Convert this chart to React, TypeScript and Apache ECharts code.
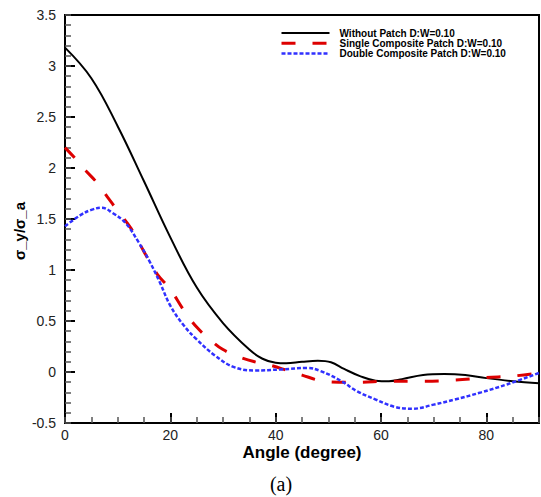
import React, { useEffect, useRef } from "react";
import * as echarts from "echarts";

const seriesNames = [
  "Without Patch D:W=0.10",
  "Single Composite Patch D:W=0.10",
  "Double Composite Patch D:W=0.10",
];

const withoutAngles = [0, 5, 10, 15, 20, 25, 30, 35, 37.5, 40, 42, 45, 48, 50.5, 53, 56, 59, 61.5, 64, 68, 72, 76, 80, 85, 90];
const withoutValues = [3.18, 2.88, 2.41, 1.87, 1.32, 0.83, 0.48, 0.22, 0.13, 0.09, 0.085, 0.1, 0.11, 0.095, 0.03, -0.04, -0.085, -0.09, -0.07, -0.03, -0.02, -0.03, -0.06, -0.09, -0.11];

const singleAngles = [0, 2, 4, 6, 8, 10, 12.5, 15, 17.5, 20, 22.5, 25, 27.5, 30, 33, 36, 39, 42.5, 45, 48.5, 52, 56, 61, 68, 74, 80, 85, 90];
const singleValues = [2.2, 2.09, 1.97, 1.86, 1.72, 1.58, 1.41, 1.18, 0.96, 0.81, 0.61, 0.44, 0.32, 0.22, 0.15, 0.1, 0.066, 0.01, -0.03, -0.085, -0.1, -0.1, -0.09, -0.09, -0.08, -0.055, -0.04, -0.01];

const doubleAngles = [0, 3, 5, 7, 9, 11.5, 14, 16, 18, 20, 22.5, 25, 28.5, 32, 36, 41, 46, 48.5, 52.5, 55.5, 59, 62.5, 66, 70, 74, 79, 84, 90];
const doubleValues = [1.43, 1.54, 1.59, 1.61, 1.56, 1.46, 1.27, 1.09, 0.88, 0.65, 0.46, 0.32, 0.16, 0.05, 0.015, 0.025, 0.04, 0.01, -0.09, -0.19, -0.27, -0.34, -0.36, -0.32, -0.27, -0.2, -0.12, -0.01];

const xTitle = "Angle (degree)";
const yTitle = "σ_y/σ_a";
const caption = "(a)";

const pairs = (xs: number[], ys: number[]) => xs.map((x, i) => [x, ys[i]]);

export default function App() {
  const ref = useRef<HTMLDivElement>(null);
  useEffect(() => {
    if (!ref.current) return;
    const chart = echarts.init(ref.current, null, { renderer: "svg" });
    const gridPos = { left: 65, right: 2, top: 15, bottom: 74 };
    const labelFont = { fontFamily: "Liberation Sans", fontSize: 14, color: "#222" };
    const axisLine = { show: true, onZero: false, lineStyle: { color: "#000", width: 2 } };
    chart.setOption({
      animation: false,
      backgroundColor: "#fff",
      grid: [
        { ...gridPos, show: true, borderColor: "#000", borderWidth: 2, backgroundColor: "transparent" },
        { ...gridPos, show: false },
      ],
      xAxis: [
        {
          type: "value",
          gridIndex: 0,
          position: "bottom",
          min: 0,
          max: 90,
          interval: 20,
          axisLine,
          axisTick: { show: true, inside: true, length: 10, lineStyle: { color: "#000", width: 2 } },
          axisLabel: { ...labelFont, margin: 5, showMaxLabel: false },
          splitLine: { show: false },
          name: xTitle,
          nameLocation: "middle",
          nameGap: 21,
          nameMoveOverlap: false,
          nameTextStyle: { fontFamily: "Liberation Sans", fontWeight: "bold", fontSize: 17, color: "#000" },
        },
        {
          type: "value",
          gridIndex: 1,
          position: "bottom",
          min: 0,
          max: 90,
          interval: 5,
          axisLine,
          axisTick: { show: true, inside: true, length: 6, lineStyle: { color: "#555", width: 1.5 } },
          axisLabel: { show: false },
          splitLine: { show: false },
        },
      ],
      yAxis: [
        {
          type: "value",
          gridIndex: 0,
          position: "left",
          min: -0.5,
          max: 3.5,
          interval: 0.5,
          axisLine,
          axisTick: { show: true, inside: true, length: 10, lineStyle: { color: "#000", width: 2 } },
          axisLabel: { ...labelFont, margin: 9 },
          splitLine: { show: false },
          name: yTitle,
          nameLocation: "middle",
          nameGap: 38,
          nameMoveOverlap: false,
          nameTextStyle: {
            fontFamily: "Liberation Sans",
            fontWeight: "bold",
            fontSize: 15,
            color: "#000",
            padding: [0, 24, 0, 0],
          },
        },
        {
          type: "value",
          gridIndex: 1,
          position: "left",
          min: -0.5,
          max: 3.5,
          interval: 0.1,
          axisLine,
          axisTick: { show: true, inside: true, length: 6, lineStyle: { color: "#555", width: 1.5 } },
          axisLabel: { show: false },
          splitLine: { show: false },
        },
      ],
      legend: {
        orient: "vertical",
        left: 280,
        top: 28,
        padding: 0,
        itemWidth: 48,
        itemHeight: 10,
        itemGap: 0.3,
        selectedMode: false,
        itemStyle: { opacity: 0 },
        textStyle: {
          fontFamily: "Liberation Sans",
          fontWeight: "bold",
          fontSize: 10,
          lineHeight: 10,
          color: "#000",
          padding: [0, 0, 0, 5],
        },
        data: [
          { name: seriesNames[0], lineStyle: { width: 2 } },
          { name: seriesNames[1], lineStyle: { width: 3 } },
          { name: seriesNames[2], lineStyle: { width: 2.5 } },
        ],
      },
      series: [
        {
          name: seriesNames[0],
          type: "line",
          xAxisIndex: 0,
          yAxisIndex: 0,
          data: pairs(withoutAngles, withoutValues),
          smooth: 0.4,
          symbol: "none",
          lineStyle: { color: "#000", width: 2 },
          itemStyle: { color: "#000" },
          z: 3,
        },
        {
          name: seriesNames[1],
          type: "line",
          xAxisIndex: 0,
          yAxisIndex: 0,
          data: pairs(singleAngles, singleValues),
          smooth: 0.4,
          symbol: "none",
          lineStyle: { color: "#dd0000", width: 3, type: [14, 17] },
          itemStyle: { color: "#dd0000" },
          z: 3,
        },
        {
          name: seriesNames[2],
          type: "line",
          xAxisIndex: 0,
          yAxisIndex: 0,
          data: pairs(doubleAngles, doubleValues),
          smooth: 0.4,
          symbol: "none",
          lineStyle: { color: "#3030ff", width: 2.5, type: [4, 2] },
          itemStyle: { color: "#3030ff" },
          z: 3,
        },
      ],
      graphic: [
        {
          type: "text",
          x: 281,
          y: 484,
          style: {
            text: caption,
            fontFamily: "Liberation Serif",
            fontSize: 20,
            fill: "#000",
            align: "center",
            verticalAlign: "middle",
          },
        },
      ],
    });
    return () => chart.dispose();
  }, []);
  return <div ref={ref} style={{ width: 541, height: 497, position: "absolute", left: 0, top: 0 }} />;
}
